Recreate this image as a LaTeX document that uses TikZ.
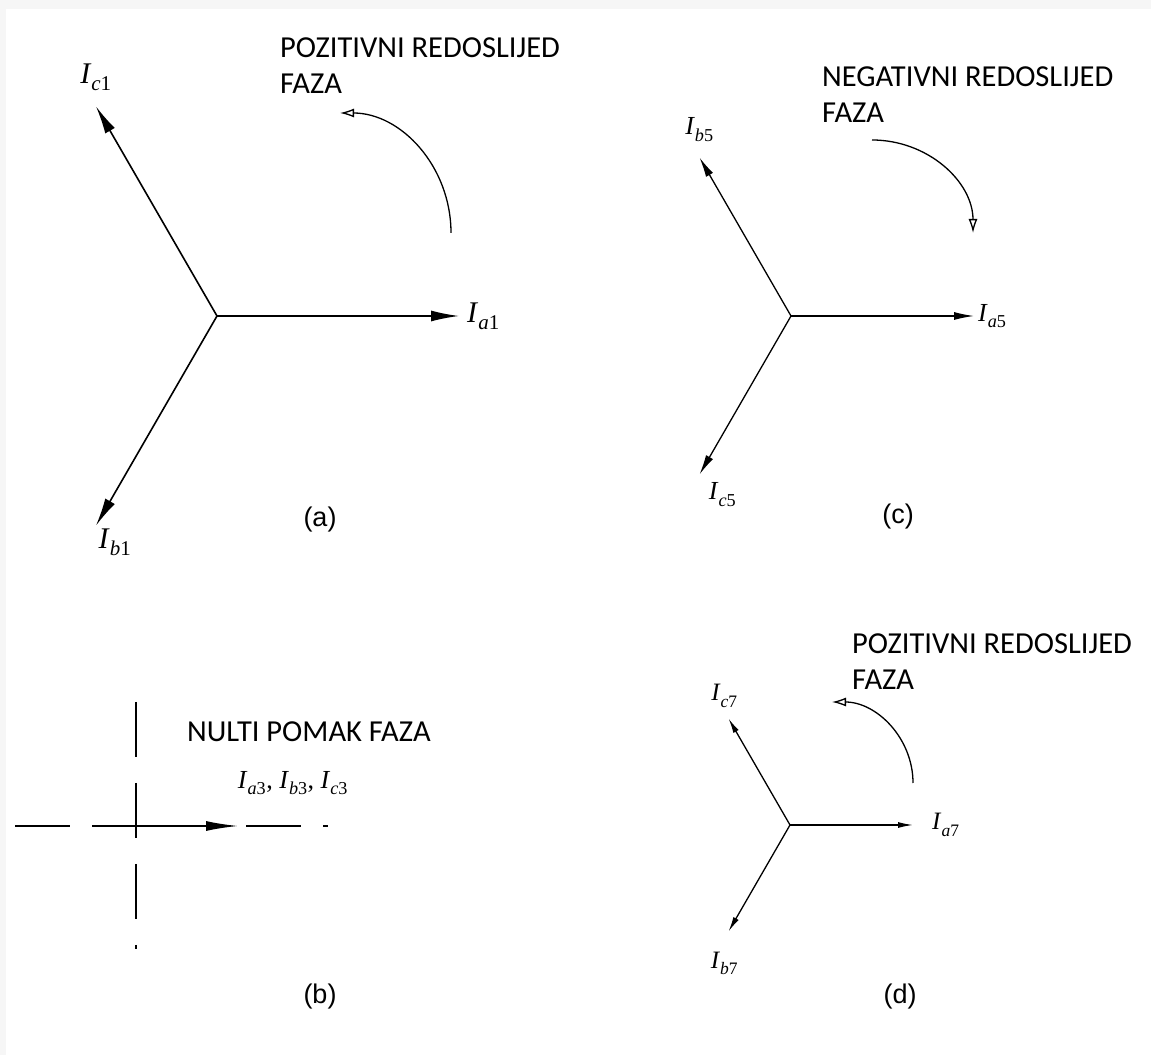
\documentclass[tikz,border=0pt]{standalone}
\usepackage{fontspec}
\setmainfont{Carlito}
\newfontfamily\symfont{Liberation Serif}
\newfontfamily\capfont{Liberation Sans}
\usetikzlibrary{arrows.meta, positioning, calc}
\newcommand{\cur}[2]{\textit{I}\textsubscript{\raisebox{-0.15em}{\textit{#1}#2}}}

\begin{document}
\begin{tikzpicture}[
        x=1pt, y=1pt,
        % Phasor styles
        phasorbig/.style={draw, line width=1.6pt, -{Latex[length=28pt, width=11pt]}},
        phasormid/.style={draw, line width=1.3pt, -{Latex[length=20pt, width=8pt]}},
        phasorsmall/.style={draw, line width=1.3pt, -{Latex[length=15pt, width=6pt]}},
        rotarrow/.style={draw, line width=1.3pt, -{Latex[open, length=14pt, width=9pt]}},
        axisline/.style={draw, line width=1.6pt, dash pattern=on 55pt off 26pt},
        % Text styles
        seqtext/.style={align=left, font=\fontsize{30.5}{36}\selectfont, inner sep=0pt},
        captext/.style={font=\capfont\fontsize{27}{32}\selectfont},
        biglabel/.style={font=\symfont\fontsize{30}{36}\selectfont, inner sep=0pt},
        midlabel/.style={font=\symfont\fontsize{26}{30}\selectfont, inner sep=0pt},
        smalllabel/.style={font=\symfont\fontsize{25}{30}\selectfont, inner sep=0pt}
    ]

    % --- BACKGROUND ---
    \fill[gray!7] (0,0) rectangle (1151,1055);
    \fill[white] (6,0) rectangle (1151,1046);
    \useasboundingbox (0,0) rectangle (1151,1055);

    % --- (a) POSITIVE SEQUENCE ---
    \coordinate (oa) at (217,739);
    \coordinate (ta1) at ($(oa)+(0:242)$);
    \coordinate (tb1) at ($(oa)+(240:242)$);
    \coordinate (tc1) at ($(oa)+(120:242)$);
    \draw [phasorbig] (oa) -- (ta1);
    \draw [phasorbig] (oa) -- (tb1);
    \draw [phasorbig] (oa) -- (tc1);
    \node (la1) [biglabel, right=8pt of ta1] {\cur{a}{1}};
    \node (lb1) [biglabel, below=3pt of tb1, xshift=19pt] {\cur{b}{1}};
    \node (lc1) [biglabel, above=16pt of tc1] {\cur{c}{1}};
    \node (seqa) [seqtext, anchor=west] at (280,989) {POZITIVNI REDOSLIJED\\FAZA};
    \coordinate (rota) at (451,822);
    \draw [rotarrow] (rota) arc[start angle=0, end angle=90, x radius=111, y radius=120];
    \node (capa) [captext] at (320,535) {(a)};

    % --- (b) ZERO SEQUENCE ---
    \coordinate (ob) at (136,229);
    \coordinate (ta3) at ($(ob)+(102,0)$);
    \coordinate (vtop) at (136,353);
    \coordinate (vbot) at (136,106);
    \coordinate (hleft) at (15,229);
    \coordinate (hright) at (328,229);
    \draw [axisline] (vtop) -- (vbot);
    \draw [axisline, dash pattern=on 55pt off 22pt] (hleft) -- (hright);
    \draw [phasorbig, -{Latex[length=32pt, width=10pt]}] (ob) -- (ta3);
    \node (l3) [font=\symfont\fontsize{26}{30}\selectfont, inner sep=0pt] at (293,272) {\cur{a}{3}, \cur{b}{3}, \cur{c}{3}};
    \node (nulti) [seqtext, anchor=west] at (187,323) {NULTI POMAK FAZA};
    \node (capb) [captext] at (320,58) {(b)};

    % --- (c) NEGATIVE SEQUENCE ---
    \coordinate (oc) at (791,739);
    \coordinate (ta5) at ($(oc)+(0:183)$);
    \coordinate (tb5) at ($(oc)+(120:183)$);
    \coordinate (tc5) at ($(oc)+(240:183)$);
    \draw [phasormid] (oc) -- (ta5);
    \draw [phasormid] (oc) -- (tb5);
    \draw [phasormid] (oc) -- (tc5);
    \node (la5) [midlabel, right=4pt of ta5] {\cur{a}{5}};
    \node (lb5) [midlabel, above=16pt of tb5] {\cur{b}{5}};
    \node (lc5) [midlabel, below=8pt of tc5, xshift=23pt] {\cur{c}{5}};
    \node (seqc) [seqtext, anchor=west] at (822,960) {NEGATIVNI REDOSLIJED\\FAZA};
    \coordinate (rotc) at (872,915);
    \draw [rotarrow] (rotc) arc[start angle=90, end angle=0, x radius=101, y radius=93];
    \node (capc) [captext] at (898,538) {(c)};

    % --- (d) POSITIVE SEQUENCE, 7th ---
    \coordinate (od) at (790,230);
    \coordinate (ta7) at ($(od)+(0:123)$);
    \coordinate (tb7) at ($(od)+(240:123)$);
    \coordinate (tc7) at ($(od)+(120:123)$);
    \draw [phasorsmall] (od) -- (ta7);
    \draw [phasorsmall] (od) -- (tb7);
    \draw [phasorsmall] (od) -- (tc7);
    \node (la7) [smalllabel, right=19pt of ta7] {\cur{a}{7}};
    \node (lb7) [smalllabel, below=20pt of tb7, xshift=-4pt] {\cur{b}{7}};
    \node (lc7) [smalllabel, above=11pt of tc7, xshift=-4pt] {\cur{c}{7}};
    \node (seqd) [seqtext, anchor=west] at (852,393.5) {POZITIVNI REDOSLIJED\\FAZA};
    \coordinate (rotd) at (913,272);
    \draw [rotarrow] (rotd) arc[start angle=0, end angle=90, radius=81];
    \node (capd) [captext] at (900,58) {(d)};

\end{tikzpicture}
\end{document}
